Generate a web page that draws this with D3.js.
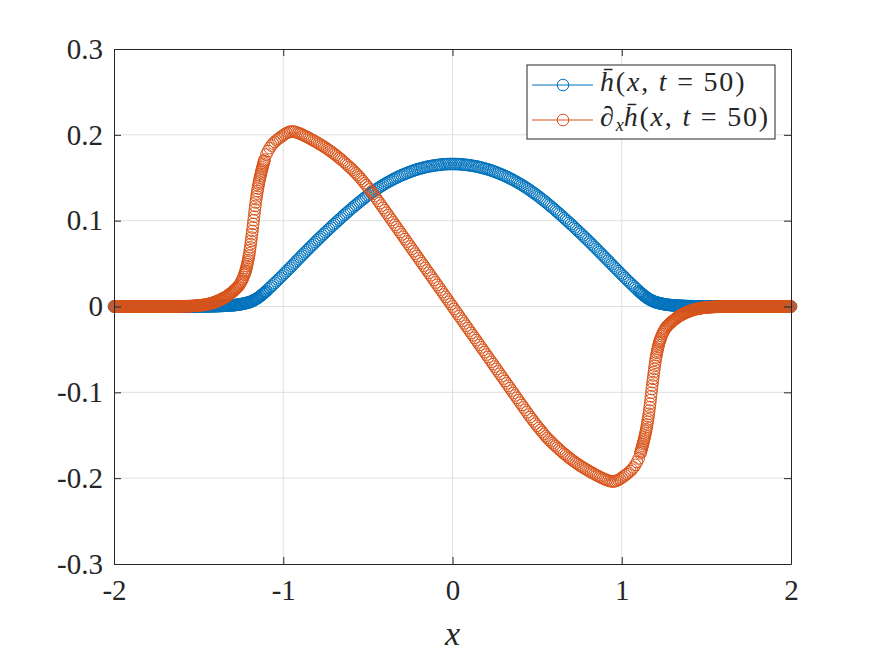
<!DOCTYPE html>
<html>
<head>
<meta charset="utf-8">
<script src="https://cdn.jsdelivr.net/npm/d3@7"></script>
<style>
  body { margin: 0; background: #fff; }
  text { font-family: "Liberation Serif", "DejaVu Serif", serif; fill: #262626; }
</style>
</head>
<body>
<svg id="chart"></svg>
<script>
// sample positions, x = -2 ... 2 every 0.01
const xs = d3.range(-200, 201).map(i => i / 100);

// h(x, t=50)
const hBar = [
  0,0,0,0,0,0,0,0,0,0,
  0,0,0,0,0,0,0,0,0,0,
  0,0,0,0,0,0,0,0,0,0,
  0,0,0,0,0,0,0,0,0,0,
  0,0,0,0,0,0,0,0,0,0,
  0.0001,0.0001,0.0001,0.0001,0.0002,0.0002,0.0002,0.0003,0.0003,0.0004,
  0.0004,0.0005,0.0005,0.0006,0.0007,0.0008,0.0009,0.0010,0.0011,0.0013,
  0.0014,0.0016,0.0018,0.0021,0.0024,0.0027,0.0031,0.0035,0.0040,0.0045,
  0.0050,0.0058,0.0067,0.0077,0.0088,0.0100,0.0115,0.0130,0.0146,0.0163,
  0.0180,0.0199,0.0218,0.0237,0.0256,0.0275,0.0294,0.0313,0.0333,0.0352,
  0.0372,0.0392,0.0412,0.0432,0.0452,0.0472,0.0492,0.0512,0.0533,0.0553,
  0.0573,0.0593,0.0613,0.0633,0.0653,0.0673,0.0693,0.0712,0.0732,0.0751,
  0.0771,0.0790,0.0809,0.0828,0.0847,0.0866,0.0884,0.0903,0.0921,0.0940,
  0.0958,0.0976,0.0994,0.1012,0.1030,0.1048,0.1065,0.1083,0.1100,0.1118,
  0.1135,0.1152,0.1168,0.1185,0.1201,0.1218,0.1233,0.1249,0.1264,0.1280,
  0.1295,0.1309,0.1323,0.1337,0.1351,0.1365,0.1378,0.1391,0.1403,0.1416,
  0.1428,0.1439,0.1450,0.1461,0.1472,0.1483,0.1492,0.1502,0.1511,0.1521,
  0.1530,0.1538,0.1546,0.1554,0.1562,0.1570,0.1577,0.1584,0.1590,0.1597,
  0.1603,0.1608,0.1613,0.1618,0.1623,0.1628,0.1632,0.1635,0.1639,0.1642,
  0.1645,0.1648,0.1650,0.1653,0.1655,0.1657,0.1658,0.1659,0.1660,0.1660,
  0.1660,
  0.1660,0.1660,0.1659,0.1658,0.1657,0.1655,0.1653,0.1650,0.1648,0.1645,
  0.1642,0.1639,0.1635,0.1632,0.1628,0.1623,0.1618,0.1613,0.1608,0.1603,
  0.1597,0.1590,0.1584,0.1577,0.1570,0.1562,0.1554,0.1546,0.1538,0.1530,
  0.1521,0.1511,0.1502,0.1492,0.1483,0.1472,0.1461,0.1450,0.1439,0.1428,
  0.1416,0.1403,0.1391,0.1378,0.1365,0.1351,0.1337,0.1323,0.1309,0.1295,
  0.1280,0.1264,0.1249,0.1233,0.1218,0.1201,0.1185,0.1168,0.1152,0.1135,
  0.1118,0.1100,0.1083,0.1065,0.1048,0.1030,0.1012,0.0994,0.0976,0.0958,
  0.0940,0.0921,0.0903,0.0884,0.0866,0.0847,0.0828,0.0809,0.0790,0.0771,
  0.0751,0.0732,0.0712,0.0693,0.0673,0.0653,0.0633,0.0613,0.0593,0.0573,
  0.0553,0.0533,0.0512,0.0492,0.0472,0.0452,0.0432,0.0412,0.0392,0.0372,
  0.0352,0.0333,0.0313,0.0294,0.0275,0.0256,0.0237,0.0218,0.0199,0.0180,
  0.0163,0.0146,0.0130,0.0115,0.0100,0.0088,0.0077,0.0067,0.0058,0.0050,
  0.0045,0.0040,0.0035,0.0031,0.0027,0.0024,0.0021,0.0018,0.0016,0.0014,
  0.0013,0.0011,0.0010,0.0009,0.0008,0.0007,0.0006,0.0005,0.0005,0.0004,
  0.0004,0.0003,0.0003,0.0002,0.0002,0.0002,0.0001,0.0001,0.0001,0.0001,
  0,0,0,0,0,0,0,0,0,0,
  0,0,0,0,0,0,0,0,0,0,
  0,0,0,0,0,0,0,0,0,0,
  0,0,0,0,0,0,0,0,0,0,
  0,0,0,0,0,0,0,0,0,0
];

// d/dx h(x, t=50)
const dxhBar = [
  0,0,0,0,0,0,0,0,0,0,
  0,0,0,0,0,0,0,0,0,0,
  0,0,0,0,0,0,0,0,0,0,
  0,0,0,0,0,
  0.0001,0.0001,0.0001,0.0001,0.0002,
  0.0002,0.0003,0.0003,0.0004,0.0004,0.0005,0.0006,0.0007,0.0009,0.0010,
  0.0012,0.0014,0.0016,0.0019,0.0022,0.0026,0.0030,0.0035,0.0040,0.0048,
  0.0055,0.0062,0.0070,0.0080,0.0090,0.0100,0.0110,0.0125,0.0140,0.0155,
  0.0170,0.0187,0.0205,0.0225,0.0250,0.0282,0.0320,0.0370,0.0430,0.0515,
  0.0620,0.0765,0.0920,0.1090,0.1250,0.1375,0.1480,0.1565,0.1642,0.1712,
  0.1770,0.1811,0.1846,0.1875,0.1899,0.1919,0.1936,0.1952,0.1967,0.1981,
  0.1995,0.2009,0.2021,0.2030,0.2036,0.2039,0.2038,0.2034,0.2028,0.2021,
  0.2013,0.2004,0.1995,0.1985,0.1975,0.1965,0.1954,0.1943,0.1932,0.1921,
  0.1910,0.1898,0.1886,0.1874,0.1862,0.1850,0.1836,0.1822,0.1808,0.1794,
  0.1780,0.1764,0.1748,0.1732,0.1716,0.1700,0.1682,0.1664,0.1646,0.1628,
  0.1610,0.1591,0.1571,0.1551,0.1531,0.1510,0.1486,0.1462,0.1438,0.1414,
  0.1390,0.1365,0.1339,0.1313,0.1287,0.1260,0.1232,0.1204,0.1176,0.1148,
  0.1120,0.1092,0.1064,0.1036,0.1008,0.0980,0.0952,0.0924,0.0896,0.0868,
  0.0840,0.0812,0.0784,0.0756,0.0728,0.0700,0.0672,0.0644,0.0616,0.0588,
  0.0560,0.0532,0.0504,0.0476,0.0448,0.0420,0.0392,0.0364,0.0336,0.0308,
  0.0280,0.0252,0.0224,0.0196,0.0168,0.0140,0.0112,0.0084,0.0056,0.0028,
  0,
  -0.0028,-0.0056,-0.0084,-0.0112,-0.0140,-0.0168,-0.0196,-0.0224,-0.0252,-0.0280,
  -0.0308,-0.0336,-0.0364,-0.0392,-0.0420,-0.0448,-0.0476,-0.0504,-0.0532,-0.0560,
  -0.0588,-0.0616,-0.0644,-0.0672,-0.0700,-0.0728,-0.0756,-0.0784,-0.0812,-0.0840,
  -0.0868,-0.0896,-0.0924,-0.0952,-0.0980,-0.1008,-0.1036,-0.1064,-0.1092,-0.1120,
  -0.1148,-0.1176,-0.1204,-0.1232,-0.1260,-0.1287,-0.1313,-0.1339,-0.1365,-0.1390,
  -0.1414,-0.1438,-0.1462,-0.1486,-0.1510,-0.1531,-0.1551,-0.1571,-0.1591,-0.1610,
  -0.1628,-0.1646,-0.1664,-0.1682,-0.1700,-0.1716,-0.1732,-0.1748,-0.1764,-0.1780,
  -0.1794,-0.1808,-0.1822,-0.1836,-0.1850,-0.1862,-0.1874,-0.1886,-0.1898,-0.1910,
  -0.1921,-0.1932,-0.1943,-0.1954,-0.1965,-0.1975,-0.1985,-0.1995,-0.2004,-0.2013,
  -0.2021,-0.2028,-0.2034,-0.2038,-0.2039,-0.2036,-0.2030,-0.2021,-0.2009,-0.1995,
  -0.1981,-0.1967,-0.1952,-0.1936,-0.1919,-0.1899,-0.1875,-0.1846,-0.1811,-0.1770,
  -0.1712,-0.1642,-0.1565,-0.1480,-0.1375,-0.1250,-0.1090,-0.0920,-0.0765,-0.0620,
  -0.0515,-0.0430,-0.0370,-0.0320,-0.0282,-0.0250,-0.0225,-0.0205,-0.0187,-0.0170,
  -0.0155,-0.0140,-0.0125,-0.0110,-0.0100,-0.0090,-0.0080,-0.0070,-0.0062,-0.0055,
  -0.0048,-0.0040,-0.0035,-0.0030,-0.0026,-0.0022,-0.0019,-0.0016,-0.0014,-0.0012,
  -0.0010,-0.0009,-0.0007,-0.0006,-0.0005,-0.0004,-0.0004,-0.0003,-0.0003,-0.0002,
  -0.0002,-0.0001,-0.0001,-0.0001,-0.0001,
  0,0,0,0,0,
  0,0,0,0,0,0,0,0,0,0,
  0,0,0,0,0,0,0,0,0,0,
  0,0,0,0,0,0,0,0,0,0
];

// the grid is finer towards the ends: extra half-step samples
// h: x = -1.995 ... -1.105 and 1.105 ... 1.995
const xsMidH = d3.range(-1995, -1100, 10).concat(d3.range(1105, 2000, 10)).map(i => i / 1000);
const hMid = [
  0,0,0,0,0,0,0,0,0,0,
  0,0,0,0,0,0,0,0,0,0,
  0,0,0,0,0,0,0,0,0,0,
  0,0,0,0,0,0,0,0,0,0,
  0,0,0,0,0,0,0,0,0,0,
  0.0001,0.0001,0.0001,0.0002,0.0002,0.0002,0.0003,0.0003,0.0003,0.0004,
  0.0004,0.0005,0.0006,0.0006,0.0007,0.0008,0.0009,0.0010,0.0012,0.0013,
  0.0015,0.0017,0.0019,0.0022,0.0025,0.0029,0.0033,0.0037,0.0042,0.0047,
  0.0054,0.0062,0.0072,0.0082,0.0094,0.0107,0.0122,0.0138,0.0154,0.0171,
  0.0171,0.0154,0.0138,0.0122,0.0107,0.0094,0.0082,0.0072,0.0062,0.0054,
  0.0047,0.0042,0.0037,0.0033,0.0029,0.0025,0.0022,0.0019,0.0017,0.0015,
  0.0013,0.0012,0.0010,0.0009,0.0008,0.0007,0.0006,0.0006,0.0005,0.0004,
  0.0004,0.0003,0.0003,0.0003,0.0002,0.0002,0.0002,0.0001,0.0001,0.0001,
  0,0,0,0,0,0,0,0,0,0,
  0,0,0,0,0,0,0,0,0,0,
  0,0,0,0,0,0,0,0,0,0,
  0,0,0,0,0,0,0,0,0,0,
  0,0,0,0,0,0,0,0,0,0
];

// derivative: x = -1.995 ... -1.235 and 1.235 ... 1.995
const xsMidDH = d3.range(-1995, -1230, 10).concat(d3.range(1235, 2000, 10)).map(i => i / 1000);
const dxhMid = [
  0,0,0,0,0,0,0,0,0,0,
  0,0,0,0,0,0,0,0,0,0,
  0,0,0,0,0,0,0,0,0,0,
  0,0,0,0,
  0.0001,0.0001,0.0001,0.0001,0.0002,0.0002,0.0002,0.0003,0.0003,0.0004,
  0.0004,0.0005,0.0006,0.0008,0.0009,0.0011,0.0013,0.0015,0.0017,0.0020,
  0.0024,0.0028,0.0032,0.0037,0.0044,0.0051,0.0058,0.0066,0.0075,0.0085,
  0.0095,0.0105,0.0117,0.0132,0.0147,0.0162,0.0178,0.0196,0.0215,0.0237,
  0.0265,0.0300,0.0344,
  -0.0344,-0.0300,-0.0265,
  -0.0237,-0.0215,-0.0196,-0.0178,-0.0162,-0.0147,-0.0132,-0.0117,-0.0105,-0.0095,
  -0.0085,-0.0075,-0.0066,-0.0058,-0.0051,-0.0044,-0.0037,-0.0032,-0.0028,-0.0024,
  -0.0020,-0.0017,-0.0015,-0.0013,-0.0011,-0.0009,-0.0008,-0.0006,-0.0005,-0.0004,
  -0.0004,-0.0003,-0.0003,-0.0002,-0.0002,-0.0002,-0.0001,-0.0001,-0.0001,-0.0001,
  0,0,0,0,0,0,0,0,0,0,
  0,0,0,0,0,0,0,0,0,0,
  0,0,0,0,0,0,0,0,0,0,
  0,0,0,0
];

// steep fronts of the derivative, every 0.0025 in 1.11 < |x| < 1.23
const xsSteep = d3.range(-12275, -11100, 25).concat(d3.range(11125, 12300, 25))
  .filter(i => i % 100 !== 0)
  .map(i => i / 10000);
const dxhSteep = [
  0.0384,0.0399,0.0414,0.0451,0.0472,0.0493,0.0540,0.0566,0.0592,0.0655,
  0.0690,0.0727,0.0803,0.0842,0.0880,0.0962,0.1005,0.1047,0.1132,0.1172,
  0.1212,0.1283,0.1315,0.1345,0.1403,0.1430,0.1455,0.1502,0.1523,0.1544,
  0.1585,0.1604,0.1623,0.1660,0.1678,0.1695,
  -0.1695,-0.1678,-0.1660,-0.1623,-0.1604,-0.1585,-0.1544,-0.1523,-0.1502,-0.1455,
  -0.1430,-0.1403,-0.1345,-0.1315,-0.1283,-0.1212,-0.1172,-0.1132,-0.1047,-0.1005,
  -0.0962,-0.0880,-0.0842,-0.0803,-0.0727,-0.0690,-0.0655,-0.0592,-0.0566,-0.0540,
  -0.0493,-0.0472,-0.0451,-0.0414,-0.0399,-0.0384
];

const xTicks = [-2, -1, 0, 1, 2];
const yTicks = [-0.3, -0.2, -0.1, 0, 0.1, 0.2, 0.3];
const yTickLabels = ["-0.3", "-0.2", "-0.1", "0", "0.1", "0.2", "0.3"];

const WIDTH = 875,
  HEIGHT = 656;

const margins = { top: 49, bottom: 92, left: 114, right: 84 };

const colores = { h: "#0072BD", dh: "#D95319", eje: "#262626", grid: "#dfdfdf" };

const svg = d3.select("#chart")
  .attr("width", WIDTH)
  .attr("height", HEIGHT);

const escalaX = d3.scaleLinear()
  .domain([-2, 2])
  .range([margins.left, WIDTH - margins.right]);

const escalaY = d3.scaleLinear()
  .domain([-0.3, 0.3])
  .range([HEIGHT - margins.bottom, margins.top]);

// grid
const grid = svg.append("g");
grid.selectAll("line.gx")
  .data(xTicks.slice(1, -1))
  .join("line")
  .attr("x1", d => escalaX(d)).attr("x2", d => escalaX(d))
  .attr("y1", margins.top).attr("y2", HEIGHT - margins.bottom)
  .attr("stroke", colores.grid).attr("stroke-width", 1);
grid.selectAll("line.gy")
  .data(yTicks.slice(1, -1))
  .join("line")
  .attr("class", "gy")
  .attr("y1", d => escalaY(d)).attr("y2", d => escalaY(d))
  .attr("x1", margins.left).attr("x2", WIDTH - margins.right)
  .attr("stroke", colores.grid).attr("stroke-width", 1);

const juntar = (xv, yv) => xv.slice(0, Math.min(xv.length, yv.length)).map((x, i) => ({ x: x, y: yv[i] }));

// markers: h first, derivative on top
const puntosH = juntar(xs, hBar).concat(juntar(xsMidH, hMid));
const puntosDH = juntar(xs, dxhBar).concat(juntar(xsMidDH, dxhMid), juntar(xsSteep, dxhSteep));

const dibujarSerie = (puntos, color) => {
  svg.append("g")
    .selectAll("circle")
    .data(puntos)
    .join("circle")
    .attr("cx", d => escalaX(d.x))
    .attr("cy", d => escalaY(d.y))
    .attr("r", 5.8)
    .attr("fill", "none")
    .attr("stroke", color)
    .attr("stroke-width", 1);
};

dibujarSerie(puntosH, colores.h);
dibujarSerie(puntosDH, colores.dh);

// axes, ticks inside on all four sides
const ejeAbajo = d3.axisBottom(escalaX).tickValues(xTicks).tickSize(-7).tickSizeOuter(0).tickPadding(15)
  .tickFormat(d => String(d));
const ejeIzq = d3.axisLeft(escalaY).tickValues(yTicks).tickSize(-7).tickSizeOuter(0).tickPadding(11)
  .tickFormat((d, i) => yTickLabels[i]);
const ejeArriba = d3.axisTop(escalaX).tickValues(xTicks).tickSize(-7).tickSizeOuter(0).tickFormat("");
const ejeDer = d3.axisRight(escalaY).tickValues(yTicks).tickSize(-7).tickSizeOuter(0).tickFormat("");

const gAbajo = svg.append("g").attr("transform", `translate(0 ${HEIGHT - margins.bottom})`).call(ejeAbajo);
const gIzq = svg.append("g").attr("transform", `translate(${margins.left} 0)`).call(ejeIzq);
const gArriba = svg.append("g").attr("transform", `translate(0 ${margins.top})`).call(ejeArriba);
const gDer = svg.append("g").attr("transform", `translate(${WIDTH - margins.right} 0)`).call(ejeDer);

[gAbajo, gIzq, gArriba, gDer].forEach(g => {
  g.select(".domain").attr("stroke", colores.eje).attr("stroke-width", 1);
  g.selectAll(".tick line").attr("stroke", colores.eje).attr("stroke-width", 1);
  g.selectAll(".tick text")
    .attr("font-family", "Liberation Serif")
    .attr("font-size", 29)
    .attr("fill", colores.eje);
});

// x label
svg.append("text")
  .attr("x", escalaX(0))
  .attr("y", 645)
  .attr("text-anchor", "middle")
  .attr("font-size", 34)
  .attr("font-style", "italic")
  .text("x");

// legend
const leg = svg.append("g").attr("transform", "translate(527 65)");
leg.append("rect")
  .attr("width", 248).attr("height", 74)
  .attr("fill", "#fff")
  .attr("stroke", colores.eje).attr("stroke-width", 1);

const filas = [
  { color: colores.h, y: 20, deriv: false },
  { color: colores.dh, y: 55, deriv: true }
];

filas.forEach(f => {
  leg.append("line")
    .attr("x1", 5).attr("x2", 66)
    .attr("y1", f.y).attr("y2", f.y)
    .attr("stroke", f.color).attr("stroke-width", 1);
  leg.append("circle")
    .attr("cx", 36).attr("cy", f.y).attr("r", 5.8)
    .attr("fill", "none").attr("stroke", f.color).attr("stroke-width", 1);

  const t = leg.append("text")
    .attr("x", 73)
    .attr("y", f.y + 6)
    .attr("font-size", 28)
    .attr("letter-spacing", 1.8);
  if (f.deriv) {
    t.append("tspan").text("\u2202");
    t.append("tspan").attr("font-style", "italic").attr("font-size", 18).attr("dy", 5).attr("letter-spacing", 0).text("x");
    t.append("tspan").attr("font-style", "italic").attr("dy", -5).text("h\u0304");
  } else {
    t.append("tspan").attr("font-style", "italic").text("h\u0304");
  }
  t.append("tspan").text("(");
  t.append("tspan").attr("font-style", "italic").text("x");
  t.append("tspan").text(", ");
  t.append("tspan").attr("font-style", "italic").text("t");
  t.append("tspan").text(" = 50)");
});
</script>
</body>
</html>
